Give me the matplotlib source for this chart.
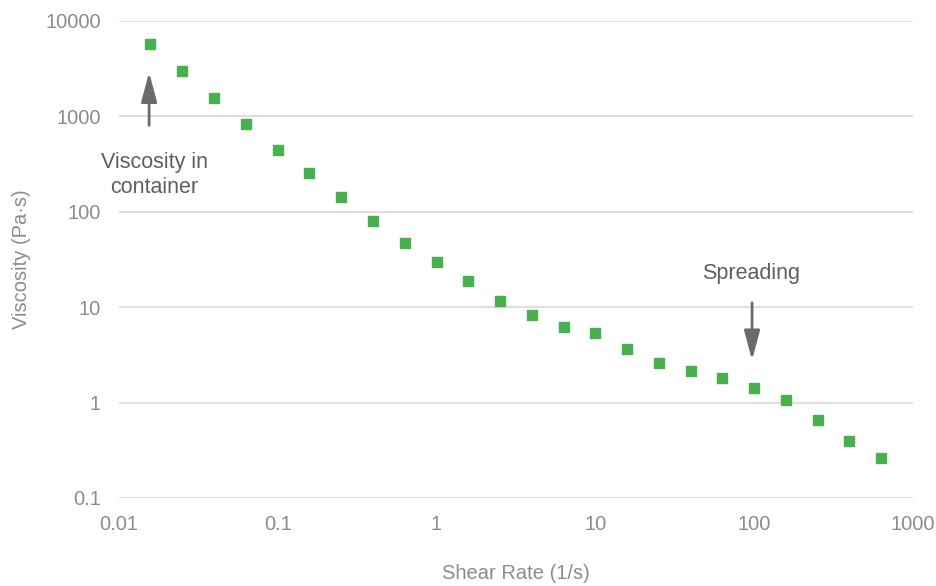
import matplotlib.pyplot as plt
from matplotlib.ticker import FixedLocator, FuncFormatter, NullLocator

# shear rate sweep (1/s) and measured viscosity (Pa.s)
shear_rate = [0.0158, 0.0251, 0.0398, 0.0631, 0.1, 0.158, 0.251, 0.398, 0.631, 1.0,
              1.58, 2.51, 3.98, 6.31, 10.0, 15.8, 25.1, 39.8, 63.1, 100.0,
              158.0, 251.0, 398.0, 631.0]
viscosity = [5780, 3010, 1550, 832, 448, 253, 143, 80, 47, 29.8,
             18.8, 11.6, 8.3, 6.2, 5.37, 3.65, 2.62, 2.14, 1.82, 1.42,
             1.06, 0.65, 0.395, 0.262]

x_ticks = [0.01, 0.1, 1, 10, 100, 1000]
y_ticks = [0.1, 1, 10, 100, 1000, 10000]

green = '#48b04f'
text_grey = '#8c8c90'
arrow_grey = '#6a6a6e'

plt.rcParams['font.family'] = ['Liberation Sans', 'DejaVu Sans']

fig = plt.figure(figsize=(9.36, 5.86), dpi=100)
ax = fig.add_axes([0.127, 0.1502, 0.8484, 0.814])

ax.plot(shear_rate, viscosity, linestyle='none', marker='s', markersize=7.8,
        color=green, markeredgecolor=green, zorder=3)

ax.set_xscale('log')
ax.set_yscale('log')
ax.set_xlim(0.01, 1000)
ax.set_ylim(0.1, 10000)

ax.xaxis.set_major_locator(FixedLocator(x_ticks))
ax.yaxis.set_major_locator(FixedLocator(y_ticks))
ax.xaxis.set_minor_locator(NullLocator())
ax.yaxis.set_minor_locator(NullLocator())
fmt = FuncFormatter(lambda v, p: ('%g' % v))
ax.xaxis.set_major_formatter(fmt)
ax.yaxis.set_major_formatter(fmt)

ax.grid(axis='y', color='#d9d9d9', linewidth=1.2)
ax.set_axisbelow(True)
for s in ax.spines.values():
    s.set_visible(False)
ax.tick_params(length=0, labelsize=14.5, colors=text_grey)
ax.tick_params(axis='x', pad=12)
ax.tick_params(axis='y', pad=13)

ax.set_xlabel('Shear Rate (1/s)', fontsize=14.5, color=text_grey, labelpad=22)
ax.set_ylabel('Viscosity (Pa·s)', fontsize=14.5, color=text_grey, labelpad=10)

arrow = dict(arrowstyle='-|>,head_length=0.9,head_width=0.24', color=arrow_grey,
             lw=2, mutation_scale=20)
ax.annotate('', xy=(0.0155, 3100), xytext=(0.0155, 755), arrowprops=arrow)
ax.text(0.0168, 245, 'Viscosity in\ncontainer', ha='center', va='center',
        fontsize=15.5, color='#5f5f63', linespacing=1.25)

ax.annotate('', xy=(97, 2.6), xytext=(97, 11.9), arrowprops=arrow)
ax.text(95, 22.5, 'Spreading', ha='center', va='center',
        fontsize=15.5, color='#5f5f63')

fig.savefig('out.png', dpi=100)
